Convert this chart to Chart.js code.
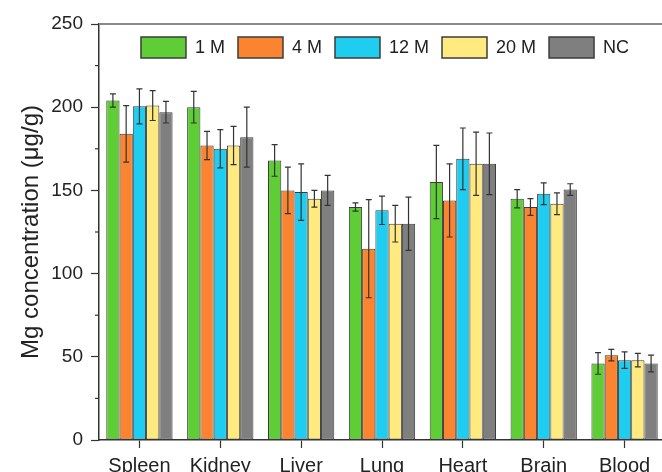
<!DOCTYPE html>
<html>
<head>
<meta charset="utf-8">
<script src="https://cdn.jsdelivr.net/npm/chart.js@4"></script>
<style>
  html, body { margin: 0; padding: 0; background: #fff; overflow: hidden; width: 662px; height: 472px; }
  #wrap { width: 680px; height: 480px; }
</style>
</head>
<body>
<div id="wrap"><canvas id="c" width="680" height="480"></canvas></div>
<script>
const categories = ["Spleen", "Kidney", "Liver", "Lung", "Heart", "Brain", "Blood"];
const seriesNames = ["1 M", "4 M", "12 M", "20 M", "NC"];
const values1M  = [204, 200, 168, 140, 155, 145, 46];
const values4M  = [184, 177, 150, 115, 144, 140, 51];
const values12M = [200.5, 175, 149, 138, 169, 148, 48];
const values20M = [201, 177, 145, 130, 166, 142, 48];
const valuesNC  = [197, 182, 150, 130, 166, 150.5, 46];
const err1M  = [4, 9.5, 9.5, 2.5, 22, 5.5, 6.5];
const err4M  = [17, 8.5, 14, 29.5, 22, 5, 3.5];
const err12M = [10.5, 11.5, 17, 8.5, 18.5, 6.5, 5];
const err20M = [9, 11.5, 5, 11, 19, 6.5, 4];
const errNC  = [6.5, 18, 9, 16, 18.5, 3.5, 5];
const yTicks = [0, 50, 100, 150, 200, 250];

const colors = ["#5fcd35", "#fb8431", "#1fcdf0", "#ffea80", "#7f7f7f"];
const allValues = [values1M, values4M, values12M, values20M, valuesNC];
const allErrors = [err1M, err4M, err12M, err20M, errNC];
const FONT = "'Liberation Sans', Arial, Helvetica, sans-serif";

const datasets = seriesNames.map((n, i) => ({
  label: n,
  data: allValues[i],
  errors: allErrors[i],
  backgroundColor: colors[i],
  borderColor: "#3c3c3c",
  borderWidth: 1,
  borderSkipped: false,
  barPercentage: 1,
  categoryPercentage: 0.82
}));

const errorBars = {
  id: "errorBars",
  afterDatasetsDraw(chart) {
    const ctx = chart.ctx, ys = chart.scales.y;
    ctx.save();
    ctx.strokeStyle = "#333";
    ctx.lineWidth = 1.2;
    chart.data.datasets.forEach((ds, i) => {
      const meta = chart.getDatasetMeta(i);
      meta.data.forEach((bar, j) => {
        const v = ds.data[j], e = ds.errors[j];
        const yt = ys.getPixelForValue(v + e), yb = ys.getPixelForValue(v - e);
        const x = bar.x, cap = 3;
        ctx.beginPath();
        ctx.moveTo(x, yt); ctx.lineTo(x, yb);
        ctx.moveTo(x - cap, yt); ctx.lineTo(x + cap, yt);
        ctx.moveTo(x - cap, yb); ctx.lineTo(x + cap, yb);
        ctx.stroke();
      });
    });
    ctx.restore();
  }
};

const decorations = {
  id: "decorations",
  afterDraw(chart) {
    const ctx = chart.ctx, a = chart.chartArea, ys = chart.scales.y;
    ctx.save();
    ctx.strokeStyle = "#8a8a8a";
    ctx.lineWidth = 2;
    ctx.beginPath();
    ctx.moveTo(a.left, a.top); ctx.lineTo(a.right, a.top);
    ctx.stroke();
    ctx.strokeStyle = "#333";
    ctx.lineWidth = 1.2;
    for (let v = 25; v < 250; v += 50) {
      const y = ys.getPixelForValue(v);
      ctx.beginPath();
      ctx.moveTo(a.left - 4, y); ctx.lineTo(a.left, y);
      ctx.stroke();
    }
    ctx.font = "18px " + FONT;
    ctx.textBaseline = "middle";
    ctx.textAlign = "left";
    const boxW = 45, boxH = 21, gap = 9, pad = 13;
    const widths = chart.data.datasets.map(d => boxW + gap + ctx.measureText(d.label).width);
    const total = widths.reduce((s, w) => s + w, 0) + pad * (widths.length - 1);
    let x = 385 - total / 2;
    const top = 37;
    chart.data.datasets.forEach((d, i) => {
      ctx.fillStyle = d.backgroundColor;
      ctx.fillRect(x, top, boxW, boxH);
      ctx.strokeStyle = "#3c3c3c";
      ctx.lineWidth = 1.5;
      ctx.strokeRect(x, top, boxW, boxH);
      ctx.fillStyle = "#222";
      ctx.fillText(d.label, x + boxW + gap, top + boxH / 2 + 1);
      x += widths[i] + pad;
    });
    ctx.restore();
  }
};

new Chart(document.getElementById("c"), {
  type: "bar",
  data: { labels: categories, datasets },
  plugins: [errorBars, decorations],
  options: {
    responsive: false,
    animation: false,
    layout: { padding: { top: 24, right: 15, left: 0, bottom: 0 } },
    plugins: { legend: { display: false }, tooltip: { enabled: false } },
    scales: {
      x: {
        grid: { display: true, drawOnChartArea: false, offset: false, tickLength: 8, tickColor: "#333", tickWidth: 1.2 },
        border: { display: true, color: "#333", width: 1.5 },
        ticks: { color: "#222", font: { size: 20, family: FONT }, padding: 6, maxRotation: 0, autoSkip: false },
        afterFit(s) { s.height = 40; }
      },
      y: {
        min: 0, max: 250,
        afterBuildTicks(s) { s.ticks = yTicks.map(v => ({ value: v })); },
        grid: { display: true, drawOnChartArea: false, tickLength: 8, tickColor: "#333", tickWidth: 1.2 },
        border: { display: true, color: "#333", width: 1.5 },
        ticks: { color: "#222", font: { size: 19, family: FONT }, padding: 8 },
        title: { display: true, text: "Mg concentration (μg/g)", color: "#222",
                 font: { size: 24, family: FONT, lineHeight: 1.2 }, padding: { top: 17, bottom: 0 } },
        afterFit(s) { s.width = 99; }
      }
    }
  }
});
</script>
</body>
</html>
